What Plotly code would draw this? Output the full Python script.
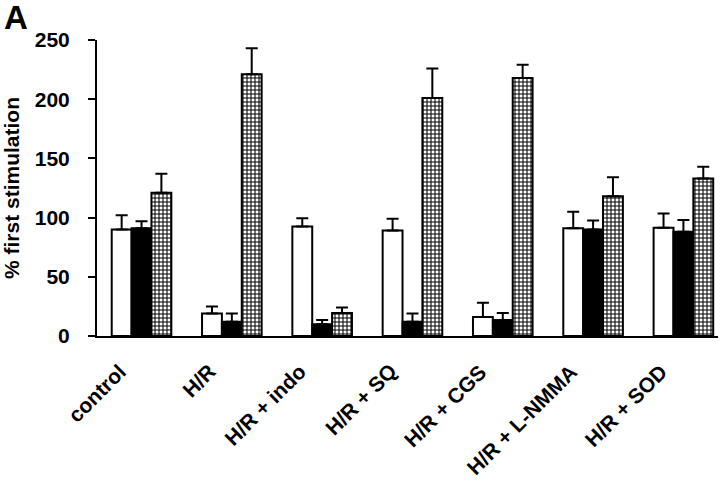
import plotly.graph_objects as go

categories = ["control", "H/R", "H/R + indo", "H/R + SQ", "H/R + CGS", "H/R + L-NMMA", "H/R + SOD"]

white_vals = [90, 19, 92.5, 89, 16, 91, 91.5]
white_err = [12, 6, 7, 10, 12, 14, 12]
black_vals = [91, 12, 10, 12, 13.5, 90, 88]
black_err = [6, 7, 3.5, 7, 6, 7.5, 10]
hatch_vals = [121, 221, 19.5, 201, 218, 118, 133]
hatch_err = [16, 22, 4.5, 25, 11, 16, 10]

y_ticks = [0, 50, 100, 150, 200, 250]

FONT = "Liberation Sans, Arial, sans-serif"
idx = list(range(len(categories)))

def err(vals):
    return dict(type="data", symmetric=False, array=vals, arrayminus=[0] * len(vals),
                color="black", thickness=2, width=6)

fig = go.Figure()
fig.add_trace(go.Bar(x=idx, y=white_vals, error_y=err(white_err),
                     marker=dict(color="white", line=dict(color="black", width=2))))
fig.add_trace(go.Bar(x=idx, y=black_vals, error_y=err(black_err),
                     marker=dict(color="black", line=dict(color="black", width=2))))
fig.add_trace(go.Bar(x=idx, y=hatch_vals, error_y=err(hatch_err),
                     marker=dict(color="white", line=dict(color="black", width=2),
                                 pattern=dict(shape="+", fgcolor="black", bgcolor="white",
                                              fgopacity=1, size=4, solidity=0.45))))

for i, lab in zip(idx, categories):
    fig.add_annotation(x=i, xref="x", y=0, yref="paper", text=lab, showarrow=False,
                       textangle=-45, xanchor="right", yanchor="top",
                       xshift=-9, yshift=-21,
                       font=dict(family=FONT, size=21, weight="bold", color="black"))

fig.add_annotation(x=0, xref="paper", y=1, yref="paper", text="A", showarrow=False,
                   xanchor="left", yanchor="bottom", xshift=-95, yshift=2,
                   font=dict(family=FONT, size=33, weight="bold", color="black"))

fig.update_layout(
    width=720, height=486,
    margin=dict(l=95, r=2, t=40, b=150),
    paper_bgcolor="white", plot_bgcolor="white",
    barmode="group", bargap=0.34, bargroupgap=0,
    showlegend=False,
    font=dict(family=FONT, color="black", size=20, weight="bold"),
)
fig.update_xaxes(
    range=[-0.493, 6.383], tickvals=idx, showticklabels=False,
    showline=True, linecolor="black", linewidth=2,
    ticks="", showgrid=False, zeroline=False,
)
fig.update_yaxes(
    range=[0, 250], tickvals=y_ticks, showline=True, linecolor="black", linewidth=2,
    ticks="outside", ticklen=7, tickwidth=2, tickcolor="black",
    showgrid=False, zeroline=False, ticklabelstandoff=14,
    tickfont=dict(family=FONT, size=21, weight="bold"),
    title=dict(text="% first stimulation", standoff=18,
               font=dict(family=FONT, size=21, weight="bold")),
)

fig.write_html("out.html", config={"displayModeBar": False},
               post_script="document.body.style.margin='0';")
